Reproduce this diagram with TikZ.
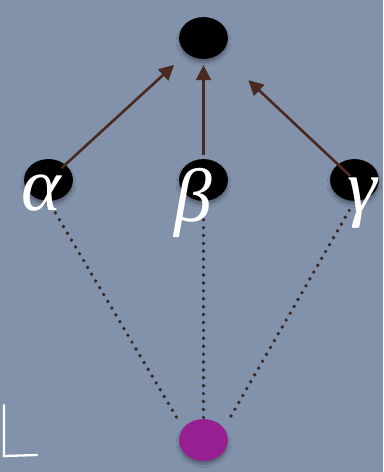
\documentclass[tikz,border=0pt]{standalone}
\usepackage{fontspec}
\newfontfamily\greekfont{Liberation Serif}
\usetikzlibrary{arrows.meta,shapes.geometric,shadows.blur}
\definecolor{slate}{RGB}{130,146,170}
\definecolor{arrowbrown}{RGB}{74,42,32}
\definecolor{dotbrown}{RGB}{58,36,30}
\definecolor{plum}{RGB}{150,32,145}
\tikzset{
  blob/.style={ellipse, minimum width=27.8pt, minimum height=23.8pt, inner sep=0pt,
    blur shadow={shadow blur steps=6, shadow xshift=0pt, shadow yshift=-2pt, shadow opacity=35}},
  link/.style={draw=arrowbrown, line width=1.5pt, -{Triangle[length=8.5pt, width=8.5pt]}},
  tie/.style={draw=dotbrown, line width=2.1pt, line cap=round, dash pattern=on 0pt off 4.5pt},
  greek/.style={text=white, font=\greekfont\itshape\fontsize{43}{43}\selectfont, inner sep=0pt}
}
\begin{document}
\begin{tikzpicture}[x=0.02cm, y=-0.02cm]
  \useasboundingbox[fill=slate] (0,0) rectangle (383,472);
  % nodes
  \node[blob, fill=black] (top) at (203.5,38) {};
  \node[blob, fill=black] (alpha) at (48.5,180) {};
  \node[blob, fill=black] (beta) at (203.5,180) {};
  \node[blob, fill=black] (gamma) at (354.5,180) {};
  \node[blob, fill=plum] (bottom) at (203.5,440) {};
  % dotted ties
  \draw[tie, shorten <=7.7pt, shorten >=5pt] (alpha.south) -- (bottom.150);
  \draw[tie, shorten <=6pt, shorten >=0pt] (beta.south) -- (bottom.north);
  \draw[tie, shorten <=6pt, shorten >=6pt] (gamma.south) -- (bottom.30);
  % arrows
  \draw[link, shorten <=-3pt, shorten >=9.6pt] (alpha) -- (top);
  \draw[link, shorten <=2.3pt, shorten >=3.4pt] (beta) -- (top);
  \draw[link, shorten <=-9.8pt, shorten >=22pt] (gamma) -- (top);
  % labels
  \node[greek] (alphalabel) at (41,193) {α};
  \node[greek] (betalabel) at (193,203) {β};
  \node[greek] (gammalabel) at (362,203) {γ};
  % corner mark
  \draw[white, line width=1.3pt, line cap=round] (4,405) -- (4,456) -- (37,455);
\end{tikzpicture}
\end{document}
